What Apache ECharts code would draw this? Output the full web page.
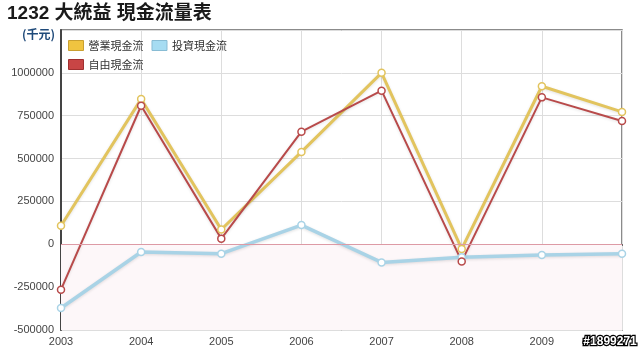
<!DOCTYPE html>
<html>
<head>
<meta charset="utf-8">
<script src="https://cdn.jsdelivr.net/npm/echarts@6/dist/echarts.min.js"></script>
<style>
  html, body { margin: 0; padding: 0; background: #fff; }
  #main { width: 640px; height: 351px; }
</style>
</head>
<body>
<div id="main"></div>
<script>
// 年度
var years = ['2003', '2004', '2005', '2006', '2007', '2008', '2009', '2010'];
// 千元
var operating = [108000, 847000, 86000, 539000, 1000000, -27000, 922000, 772000];
var investing = [-372000, -45000, -55000, 112000, -106000, -75000, -63000, -55000];
var freeCash = [-265000, 808000, 33000, 657000, 896000, -100000, 857000, 719000];
var yTicks = { min: -500000, max: 1250000, step: 250000 };

var chart = echarts.init(document.getElementById('main'));

function lineSeries(name, data, color, width, extra) {
    var s = {
        name: name,
        type: 'line',
        data: data,
        symbol: 'circle',
        symbolSize: 7,
        itemStyle: { color: '#fff', borderColor: color, borderWidth: 1.5 },
        lineStyle: { color: color, width: width, shadowColor: 'rgba(0,0,0,0.12)', shadowBlur: 3, shadowOffsetY: 1 },
        z: 3
    };
    if (extra) {
        for (var k in extra) s[k] = extra[k];
    }
    return s;
}

var option = {
    animation: false,
    textStyle: { fontFamily: 'Arial, "Liberation Sans", "Noto Sans CJK TC", sans-serif' },
    title: {
        text: '1232 大統益 現金流量表',
        left: 2,
        top: -1,
        textStyle: { fontSize: 19, fontWeight: 'bold', color: '#1a1a1a', fontFamily: 'Arial, "Noto Sans CJK TC", sans-serif' }
    },
    graphic: [
        {
            type: 'text', left: 22, top: 28,
            style: { text: '(千元)', fill: '#1f4a7a', font: 'bold 12px "Noto Sans CJK TC", sans-serif' }
        },
        {
            type: 'text', right: 2, bottom: 2,
            style: { text: '#1899271', fill: '#fff', stroke: '#000', lineWidth: 2.5, font: 'bold 12px Arial, sans-serif' },
            z: 100
        }
    ],
    legend: {
        left: 66, top: 38, width: 170,
        itemWidth: 15, itemHeight: 10, itemGap: 8,
        icon: 'rect',
        padding: 2,
        textStyle: { fontSize: 11, color: '#333', fontFamily: '"Noto Sans CJK TC", sans-serif' },
        data: [
            { name: '營業現金流', itemStyle: { color: '#f0c440', borderColor: '#c9a030', borderWidth: 1 } },
            { name: '投資現金流', itemStyle: { color: '#a6dcf2', borderColor: '#88bcd4', borderWidth: 1 } },
            { name: '自由現金流', itemStyle: { color: '#c84545', borderColor: '#a03030', borderWidth: 1 } }
        ]
    },
    grid: { left: 61, right: 18, top: 30, bottom: 21, show: true, borderColor: '#666', borderWidth: 1.5, backgroundColor: 'transparent' },
    xAxis: {
        type: 'category',
        data: years,
        boundaryGap: false,
        axisLine: { lineStyle: { color: '#444', width: 2 } },
        axisTick: { show: false },
        axisLabel: { color: '#444', fontSize: 11, margin: 6, formatter: function (v) { return v === '2010' ? '' : v; } },
        splitLine: { show: true, lineStyle: { color: '#ddd' } }
    },
    yAxis: {
        type: 'value',
        min: yTicks.min, max: yTicks.max, interval: yTicks.step,
        axisLine: { show: true, lineStyle: { color: '#444', width: 2 } },
        axisTick: { show: false },
        axisLabel: { color: '#444', fontSize: 11, margin: 7, showMaxLabel: false, formatter: function (v) { return String(v); } },
        splitLine: { lineStyle: { color: '#ddd' } }
    },
    series: [
        lineSeries('營業現金流', operating, '#e2c45e', 3),
        lineSeries('投資現金流', investing, '#a9d3e6', 3.5, {
            markArea: {
                silent: true,
                itemStyle: { color: '#fdf7f9' },
                data: [[{ yAxis: yTicks.min }, { yAxis: 0 }]]
            },
            markLine: {
                silent: true,
                symbol: 'none',
                label: { show: false },
                lineStyle: { color: '#dd9aa5', width: 1, type: 'solid' },
                data: [{ yAxis: 0 }]
            }
        }),
        lineSeries('自由現金流', freeCash, '#b84a4a', 2)
    ]
};

chart.setOption(option);
</script>
</body>
</html>
